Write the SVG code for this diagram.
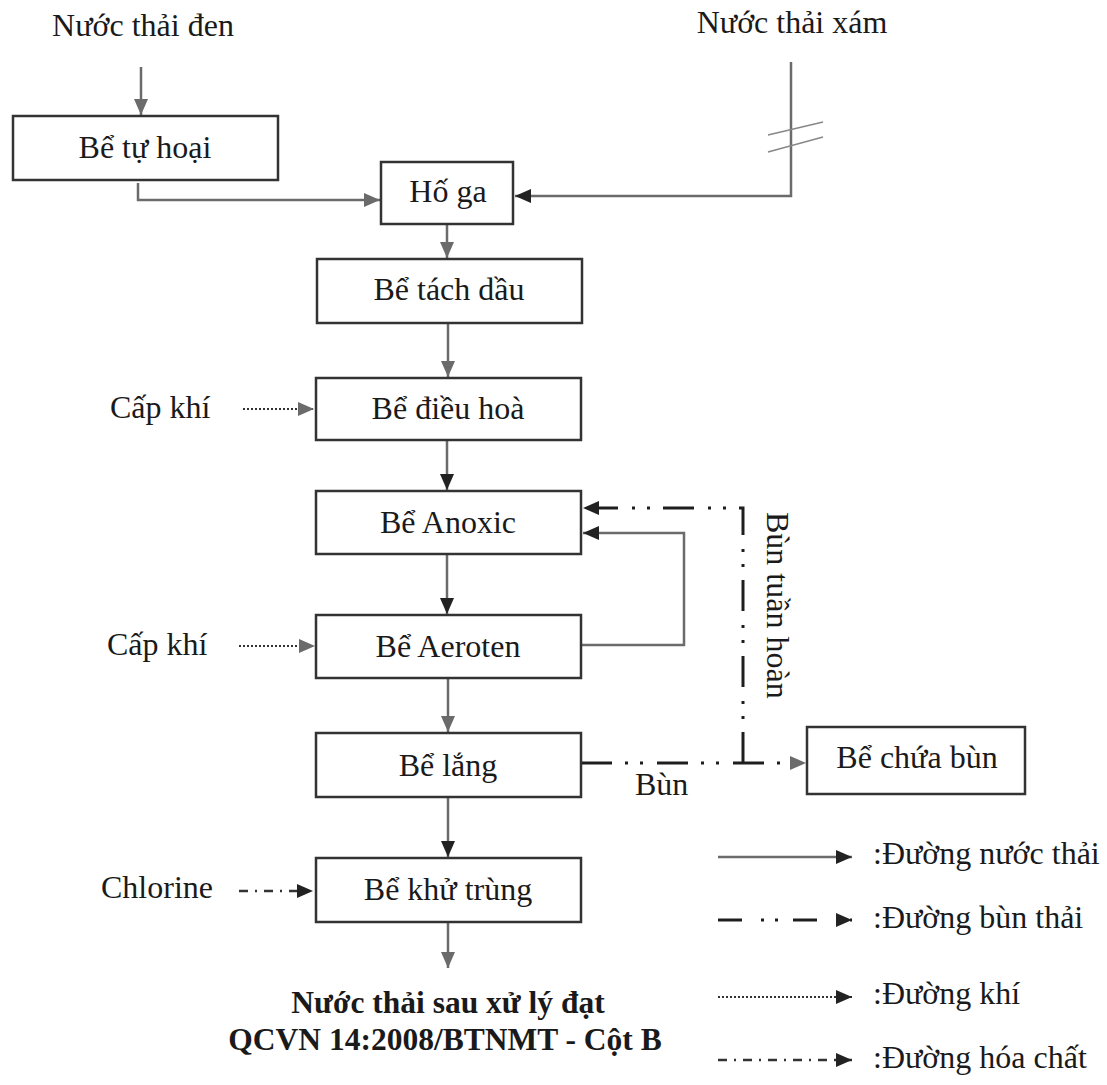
<svg xmlns="http://www.w3.org/2000/svg" width="1107" height="1085" viewBox="0 0 1107 1085">
<defs>
<style>
.bg{fill:#ffffff}
.box{fill:#ffffff;stroke:#333333;stroke-width:2.5}
.t{font-family:"Liberation Serif","Times New Roman",serif;font-size:32px;fill:#1a1a1a}
.tc{text-anchor:middle}
.b{font-weight:bold;font-size:31.5px}
.w{fill:none;stroke:#6b6b6b;stroke-width:2.5}
.sl{fill:none;stroke:#1e1e1e;stroke-width:3;stroke-dasharray:31 13 3 12 3 14}
.air{fill:none;stroke:#333333;stroke-width:2;stroke-dasharray:2 2}
.chem{fill:none;stroke:#333333;stroke-width:2.5;stroke-dasharray:9 7 2 7}
.tick{fill:none;stroke:#888888;stroke-width:1.6}
</style>
<marker id="ag" markerUnits="userSpaceOnUse" markerWidth="17" markerHeight="14" refX="16" refY="7" orient="auto"><path d="M0,0 L16,7 L0,14 z" fill="#6b6b6b"/></marker>
<marker id="ad" markerUnits="userSpaceOnUse" markerWidth="17" markerHeight="14" refX="16" refY="7" orient="auto"><path d="M0,0 L16,7 L0,14 z" fill="#222222"/></marker>
</defs>
<rect class="bg" x="0" y="0" width="1107" height="1085"/>

<g id="connectors">
<path class="w" d="M141,67 V115" marker-end="url(#ag)"/>
<path class="w" d="M138,183 V200 H380" marker-end="url(#ag)"/>
<path class="w" d="M791,62 V196 H515" marker-end="url(#ad)"/>
<path class="tick" d="M768,135 L823,122 M768,152 L823,137"/>
<path class="w" d="M447,224 V258" marker-end="url(#ag)"/>
<path class="w" d="M448,323 V377" marker-end="url(#ag)"/>
<path class="w" d="M447,440 V490" marker-end="url(#ad)"/>
<path class="w" d="M447,554 V614" marker-end="url(#ad)"/>
<path class="w" d="M448,678 V732" marker-end="url(#ag)"/>
<path class="w" d="M448,797 V857" marker-end="url(#ad)"/>
<path class="w" d="M448,922 V968" marker-end="url(#ag)"/>
<path class="w" d="M582,645 H684 V533 H583" marker-end="url(#ad)"/>
<path class="sl" d="M743,763 V508 H583" marker-end="url(#ad)"/>
<path class="sl" d="M581,763 H806" marker-end="url(#ag)"/>
<path class="air" d="M243,409 H314" marker-end="url(#ag)"/>
<path class="air" d="M239,646 H315" marker-end="url(#ag)"/>
<path class="chem" d="M239,891 H313" marker-end="url(#ad)"/>
</g>

<g id="labels">
<text class="t tc" x="143" y="36">Nước thải đen</text>
<text class="t tc" x="792" y="33">Nước thải xám</text>
<text class="t" x="110" y="418">Cấp khí</text>
<text class="t" x="107" y="655">Cấp khí</text>
<text class="t" x="101" y="898">Chlorine</text>
<text class="t" x="635" y="795">Bùn</text>
<text class="t" transform="translate(767,512) rotate(90)">Bùn tuần hoàn</text>
<text class="t tc b" x="448" y="1013">Nước thải sau xử lý đạt</text>
<text class="t tc b" x="445" y="1050">QCVN 14:2008/BTNMT - Cột B</text>
</g>

<g id="n-tuhoai"><rect class="box" x="13" y="116" width="265" height="64"/><text class="t tc" x="145" y="158">Bể tự hoại</text></g>
<g id="n-hoga"><rect class="box" x="381" y="162" width="132" height="62"/><text class="t tc" x="448" y="202">Hố ga</text></g>
<g id="n-tachdau"><rect class="box" x="317" y="259" width="265" height="64"/><text class="t tc" x="449" y="300">Bể tách dầu</text></g>
<g id="n-dieuhoa"><rect class="box" x="316" y="378" width="265" height="62"/><text class="t tc" x="448" y="419">Bể điều hoà</text></g>
<g id="n-anoxic"><rect class="box" x="316" y="491" width="265" height="63"/><text class="t tc" x="448" y="533">Bể Anoxic</text></g>
<g id="n-aeroten"><rect class="box" x="316" y="615" width="265" height="63"/><text class="t tc" x="448" y="657">Bể Aeroten</text></g>
<g id="n-lang"><rect class="box" x="316" y="733" width="265" height="64"/><text class="t tc" x="448" y="776">Bể lắng</text></g>
<g id="n-khutrung"><rect class="box" x="316" y="858" width="265" height="64"/><text class="t tc" x="448" y="900">Bể khử trùng</text></g>
<g id="n-chuabun"><rect class="box" x="807" y="727" width="218" height="67"/><text class="t tc" x="917" y="768">Bể chứa bùn</text></g>

<g id="legend">
<path class="w" d="M718,857 H852" marker-end="url(#ad)"/>
<path class="sl" style="stroke-dasharray:24 19 3 11 3 15" d="M718,920 H852" marker-end="url(#ad)"/>
<path class="air" d="M718,997 H852" marker-end="url(#ad)"/>
<path class="chem" d="M718,1060 H852" marker-end="url(#ad)"/>
<text class="t" x="873" y="864">:Đường nước thải</text>
<text class="t" x="873" y="928">:Đường bùn thải</text>
<text class="t" x="873" y="1004">:Đường khí</text>
<text class="t" x="873" y="1068">:Đường hóa chất</text>
</g>
</svg>
